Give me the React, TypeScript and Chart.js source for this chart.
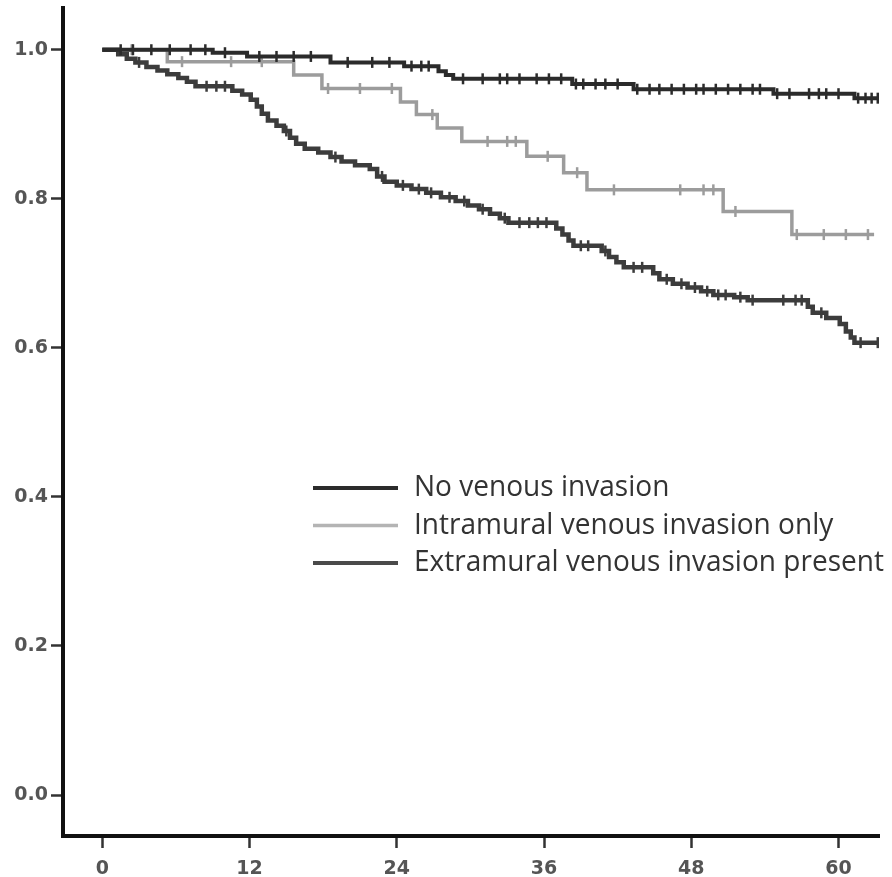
import React, { useEffect, useRef } from "react";
import { Chart, registerables } from "chart.js";

Chart.register(...registerables);

// ---- Axis ticks ----
const X_TICKS = [0, 12, 24, 36, 48, 60];
const Y_TICKS = [0, 0.2, 0.4, 0.6, 0.8, 1.0];

// ---- Series names ----
const SERIES_NAMES = [
  "No venous invasion",
  "Intramural venous invasion only",
  "Extramural venous invasion present",
];

// ---- No venous invasion (step times / survival after step) ----
const NVI_TIMES = [0, 9.0, 11.8, 18.6, 24.6, 27.4, 28.0, 28.6, 38.3, 43.3, 54.7, 61.3];
const NVI_SURV = [1.0, 0.996, 0.991, 0.983, 0.978, 0.971, 0.966, 0.961, 0.954, 0.947, 0.941, 0.935];
const NVI_CENSOR = [
  1.5, 2.5, 4, 5.5, 7.2, 8.4, 10, 12.8, 14.2, 15.6, 17, 20, 22, 23.4, 25.2, 26, 26.6,
  29.4, 31, 32.4, 33, 34, 35.4, 36.4, 37.4, 38.6, 39.2, 40.2, 41, 42, 43.6, 44.6, 45.4,
  46.4, 47.4, 48.4, 49, 50, 51, 52, 53, 53.6, 55, 56, 57.6, 58.4, 59, 60, 61.6, 62.2,
  62.7, 63.2,
];
const NVI_END = 63.3;

// ---- Intramural venous invasion only ----
const IVI_TIMES = [0, 5.3, 15.6, 17.9, 24.3, 25.6, 27.3, 29.3, 34.6, 37.6, 39.5, 50.6, 56.2];
const IVI_SURV = [1.0, 0.984, 0.966, 0.948, 0.93, 0.913, 0.895, 0.877, 0.857, 0.835, 0.812, 0.783, 0.752];
const IVI_CENSOR = [
  2.4, 6.5, 10.5, 13.0, 18.4, 21.0, 23.6, 26.9, 31.4, 33.0, 33.7, 36.3, 38.7, 41.7, 47.1,
  49.0, 49.8, 51.6, 56.6, 58.8, 60.6, 62.4,
];
const IVI_END = 62.9;

// ---- Extramural venous invasion present ----
const EMVI_TIMES = [
  0, 1.3, 2.0, 2.7, 3.6, 4.5, 5.3, 6.2, 6.9, 7.6, 10.6, 11.4, 12.1, 12.6, 13.0, 13.5, 14.2,
  14.8, 15.3, 15.8, 16.5, 17.6, 18.6, 19.5, 20.6, 21.8, 22.4, 23.0, 24.0, 25.2, 26.4, 27.6,
  28.8, 29.8, 30.7, 31.6, 32.4, 33.1, 37.0, 37.5, 38.0, 38.4, 40.7, 41.3, 41.9, 42.5, 44.9,
  45.4, 46.5, 47.7, 48.8, 49.8, 51.5, 52.6, 57.5, 57.9, 59.0, 60.1, 60.6, 61.0, 61.3,
];
const EMVI_SURV = [
  1.0, 0.994, 0.988, 0.983, 0.977, 0.972, 0.967, 0.962, 0.957, 0.951, 0.945, 0.94, 0.933,
  0.924, 0.914, 0.905, 0.898, 0.891, 0.882, 0.874, 0.867, 0.862, 0.856, 0.85, 0.845, 0.84,
  0.83, 0.823, 0.818, 0.813, 0.808, 0.802, 0.797, 0.791, 0.786, 0.78, 0.774, 0.768, 0.76,
  0.752, 0.744, 0.737, 0.73, 0.722, 0.715, 0.708, 0.7, 0.692, 0.686, 0.681, 0.676, 0.671,
  0.668, 0.664, 0.655, 0.647, 0.64, 0.632, 0.622, 0.614, 0.607,
];
const EMVI_CENSOR = [
  3, 8.5, 9.3, 10, 15, 19, 22.8, 24.5, 25.8, 26.8, 28.3, 29.5, 31, 32.8, 34, 34.8, 35.5,
  36.2, 39, 39.6, 41, 43.3, 44, 46, 47.2, 48.3, 49.3, 50.2, 50.8, 52, 53, 55.5, 56.5, 57,
  58.6, 61.8, 63.2,
];
const EMVI_END = 63.3;

const COLORS = ["#2b2b2b", "#9c9c9c", "#3c3c3c"];
const LEGEND_COLORS = ["#2b2b2b", "#b4b4b4", "#4a4a4a"];

function survivalAt(times: number[], surv: number[], t: number): number {
  let s = surv[0];
  for (let i = 0; i < times.length; i++) {
    if (times[i] <= t) s = surv[i];
  }
  return s;
}

function stepPoints(times: number[], surv: number[], end: number) {
  const pts = times.map((t, i) => ({ x: t, y: surv[i] }));
  pts.push({ x: end, y: surv[surv.length - 1] });
  return pts;
}

function censorPoints(times: number[], surv: number[], censor: number[]) {
  return censor.map((t) => ({ x: t, y: survivalAt(times, surv, t) }));
}

const legendPlugin = {
  id: "kmLegend",
  afterDraw(chart: any) {
    const ctx = chart.ctx as CanvasRenderingContext2D;
    ctx.save();
    ctx.font = '29px "Open Sans"';
    const widths = SERIES_NAMES.map((n) => ctx.measureText(n).width);
    const sx = 470 / Math.max(...widths);
    SERIES_NAMES.forEach((name, i) => {
      const y = 488 + i * 37.5;
      ctx.strokeStyle = LEGEND_COLORS[i];
      ctx.lineWidth = i === 1 ? 3.5 : 4;
      ctx.beginPath();
      ctx.moveTo(313, y);
      ctx.lineTo(398, y);
      ctx.stroke();
      ctx.save();
      ctx.translate(414, y);
      ctx.scale(sx, 1);
      ctx.fillStyle = "#333";
      ctx.textBaseline = "middle";
      ctx.fillText(name, 0, 0);
      ctx.restore();
    });
    ctx.restore();
  },
};

export default function App() {
  const canvasRef = useRef<HTMLCanvasElement | null>(null);

  useEffect(() => {
    if (!canvasRef.current) return;
    const lineDs = (label: string, pts: any[], color: string, width: number, order: number) => ({
      label,
      data: pts,
      showLine: true,
      stepped: "before" as const,
      borderColor: color,
      borderWidth: width,
      pointRadius: 0,
      fill: false,
      order,
    });
    const censorDs = (label: string, pts: any[], color: string, order: number) => ({
      label,
      data: pts,
      showLine: false,
      pointStyle: "line" as const,
      rotation: 90,
      pointRadius: 5.5,
      borderColor: color,
      backgroundColor: color,
      pointBorderWidth: 2.5,
      borderWidth: 2.5,
      order,
    });

    const tickFont = { family: "DejaVu Sans", size: 19, weight: "bold" as const };

    const chart = new Chart(canvasRef.current, {
      type: "scatter",
      data: {
        datasets: [
          lineDs(SERIES_NAMES[0], stepPoints(NVI_TIMES, NVI_SURV, NVI_END), COLORS[0], 4, 1),
          censorDs(SERIES_NAMES[0] + " censored", censorPoints(NVI_TIMES, NVI_SURV, NVI_CENSOR), COLORS[0], 0),
          lineDs(SERIES_NAMES[1], stepPoints(IVI_TIMES, IVI_SURV, IVI_END), COLORS[1], 3.5, 3),
          censorDs(SERIES_NAMES[1] + " censored", censorPoints(IVI_TIMES, IVI_SURV, IVI_CENSOR), COLORS[1], 2),
          lineDs(SERIES_NAMES[2], stepPoints(EMVI_TIMES, EMVI_SURV, EMVI_END), COLORS[2], 4.5, 1),
          censorDs(SERIES_NAMES[2] + " censored", censorPoints(EMVI_TIMES, EMVI_SURV, EMVI_CENSOR), COLORS[2], 0),
        ],
      },
      options: {
        animation: false,
        responsive: true,
        maintainAspectRatio: false,
        layout: { padding: { top: 8, right: 13, left: 0, bottom: 0 } },
        plugins: {
          legend: { display: false },
          tooltip: { enabled: false },
        },
        scales: {
          x: {
            type: "linear",
            min: -3.2,
            max: 63.3,
            afterFit: (s: any) => {
              s.height = 41;
              s.paddingLeft = 0;
              s.paddingRight = 0;
            },
            afterBuildTicks: (s: any) => {
              s.ticks = X_TICKS.map((v) => ({ value: v }));
            },
            ticks: {
              color: "#555",
              font: tickFont,
              padding: 10,
              maxRotation: 0,
              callback: (v: any) => String(v),
            },
            grid: {
              drawOnChartArea: false,
              drawTicks: true,
              tickLength: 12,
              tickWidth: 2.5,
              tickColor: "#333",
            },
            border: { display: true, color: "#111", width: 4 },
          },
          y: {
            type: "linear",
            min: -0.055,
            max: 1.056,
            afterFit: (s: any) => {
              s.width = 63;
              s.paddingTop = 0;
              s.paddingBottom = 0;
            },
            afterBuildTicks: (s: any) => {
              s.ticks = Y_TICKS.map((v) => ({ value: v }));
            },
            ticks: {
              color: "#555",
              font: tickFont,
              padding: 3,
              callback: (v: any) => Number(v).toFixed(1),
            },
            grid: {
              drawOnChartArea: false,
              drawTicks: true,
              tickLength: 12,
              tickWidth: 2.5,
              tickColor: "#333",
            },
            border: { display: true, color: "#111", width: 4 },
          },
        },
      },
      plugins: [legendPlugin],
    });
    return () => chart.destroy();
  }, []);

  return (
    <div
      style={{
        position: "absolute",
        left: 0,
        top: 0,
        width: 892,
        height: 877,
        background: "#fff",
      }}
    >
      <canvas ref={canvasRef} />
    </div>
  );
}
